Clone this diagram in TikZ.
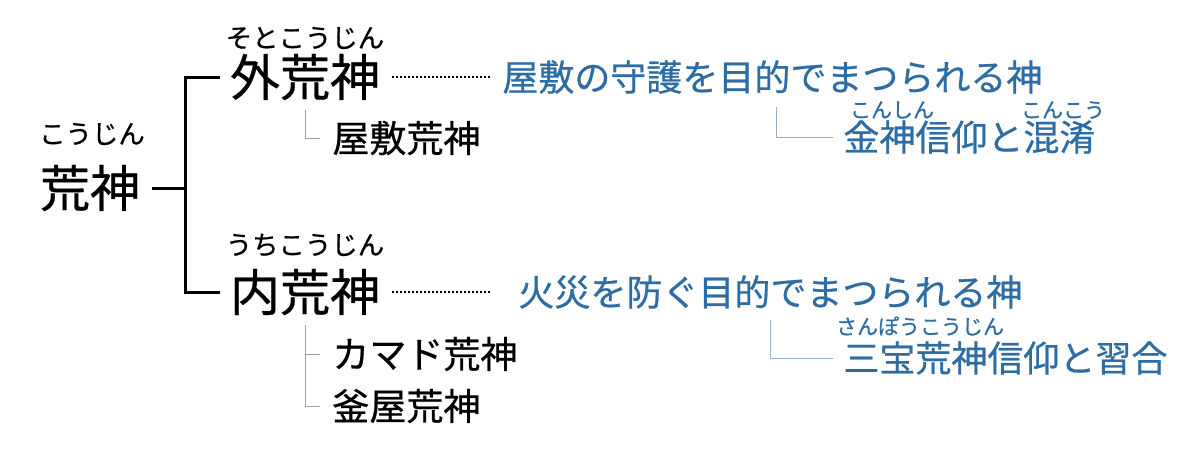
\documentclass[tikz,border=0pt]{standalone}
\usepackage{fontspec}
\setmainfont[FakeBold=0.6]{Noto Sans CJK JP}
\usetikzlibrary{positioning}

\definecolor{kamiblue}{HTML}{2E6DA4}
\definecolor{twiggray}{HTML}{A0A0A0}
\definecolor{twigblue}{HTML}{9AB0C6}

\tikzset{
  big/.style={inner sep=0pt, font=\fontsize{25}{25}\selectfont},
  small/.style={inner sep=0pt, anchor=west, font=\fontsize{18.5}{18.5}\selectfont},
  blue/.style={inner sep=0pt, anchor=west, text=kamiblue, font=\fontsize{18}{18}\selectfont},
  ruby/.style={inner sep=0pt, font=\fontsize{13.2}{13.2}\selectfont},
  bluruby/.style={inner sep=0pt, text=kamiblue, font=\fontsize{10.5}{10.5}\selectfont},
  trunk/.style={line width=1.5pt},
  twig/.style={line width=0.5pt, twiggray},
  bluetwig/.style={line width=0.5pt, twigblue},
  dots/.style={line width=1pt, dash pattern=on 0.8pt off 1.2pt}
}

\begin{document}
\begin{tikzpicture}[x=0.5pt, y=-0.5pt]
\useasboundingbox (0,0) rectangle (1200,452);

% root
\node[big] (kojin) at (90,188) {荒神};
\node[ruby] (kojinr) at (92,134) {こうじん};
\coordinate (fork) at (185,188);

% outer
\node[big] (soto) at (305,77) {外荒神};
\node[ruby] (sotor) at (305,38) {そとこうじん};
\node[small] (yashiki) at (332,138) {屋敷荒神};
\node[blue] (yashikigami) at (502,77) {屋敷の守護を目的でまつられる神};
\node[blue] (konshin) at (843,137) {金神信仰と混淆};
\node[bluruby] at (892,110) {こんしん};
\node[bluruby] at (1063,110) {こんこう};
\coordinate (konfork) at (776,107);

% inner
\node[big] (uchi) at (305,292) {内荒神};
\node[ruby] (uchir) at (305,245) {うちこうじん};
\node[small] (kamado) at (332,354) {カマド荒神};
\node[small] (kamaya) at (332,406) {釜屋荒神};
\node[blue] (kasai) at (518,292) {火災を防ぐ目的でまつられる神};
\node[blue] (sanbo) at (843,358) {三宝荒神信仰と習合};
\node[bluruby] at (920,326) {さんぽうこうじん};
\coordinate (sanfork) at (770,320);

% connectors
\draw[trunk] ([xshift=6pt]kojin.east) -- (fork);
\draw[trunk] ([xshift=-5pt]soto.west) -| (fork) |- ([xshift=-5pt]uchi.west);
\draw[twig] ([yshift=-5pt]soto.south) |- ([xshift=-6pt]yashiki.west);
\draw[twig] ([yshift=-5pt]uchi.south) |- ([xshift=-6pt]kamaya.west);
\draw[twig] (uchi.south |- kamado.west) -- ([xshift=-6pt]kamado.west);
\draw[dots] ([xshift=6pt]soto.east) -- ([xshift=-6pt]yashikigami.west);
\draw[dots] ([xshift=6pt]uchi.east) -- ([xshift=-14pt]kasai.west);
\draw[bluetwig] (konfork) |- ([xshift=-5pt]konshin.west);
\draw[bluetwig] (sanfork) |- ([xshift=-5pt]sanbo.west);
\end{tikzpicture}
\end{document}
